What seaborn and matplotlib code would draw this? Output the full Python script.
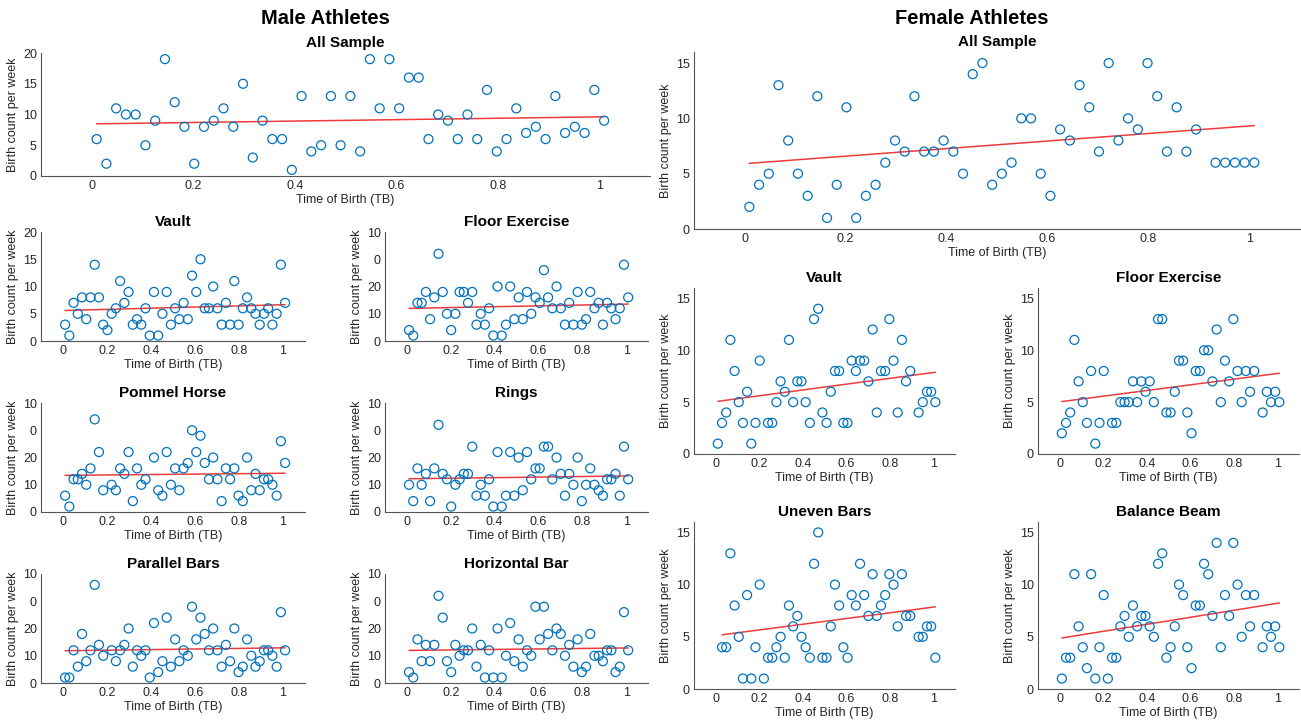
import numpy as np
import pandas as pd
import matplotlib
matplotlib.use("Agg")
import matplotlib.pyplot as plt
import seaborn as sns

nan = np.nan
# week index 1..53, plotted as Time of Birth (TB) = (week - 0.5)/52
weeks = np.arange(1, 54)

male_all = [6, 2, 11, 10, 10, 5, 9, 19, 12, 8, 2, 8, 9, 11, 8, 15, 3, 9, 6, 6,
            1, 13, 4, 5, 13, 5, 13, 4, 19, 11, 19, 11, 16, 16, 6, 10, 9, 6, 10, 6,
            14, 4, 6, 11, 7, 8, 6, 13, 7, 8, 7, 14, 9]
male_vault = [3, 1, 7, 5, 8, 4, 8, 14, 8, 3, 2, 5, 6, 11, 7, 9, 3, 4, 3, 6,
              1, 9, 1, 5, 9, 3, 6, 4, 7, 4, 12, 9, 15, 6, 6, 10, 6, 3, 7, 3,
              11, 3, 6, 8, 6, 5, 3, 5, 6, 3, 5, 14, 7]
male_floor = [4, 2, 14, 14, 18, 8, 16, 32, 18, 10, 4, 10, 18, 18, 14, 18, 6, 10, 6, 12,
              2, 20, 2, 6, 20, 8, 16, 8, 18, 10, 16, 14, 26, 16, 12, 20, 12, 6, 14, 6,
              18, 6, 8, 18, 12, 14, 6, 14, 12, 8, 12, 28, 16]
male_pommel = [6, 2, 12, 12, 14, 10, 16, 34, 22, 8, nan, 10, 8, 16, 14, 22, 4, 16, 10, 12,
               nan, 20, 8, 6, 22, 10, 16, 8, 16, 18, 30, 22, 28, 18, 12, 20, 12, 4, 16, 12,
               16, 6, 4, 20, 8, 14, 8, 12, 12, 10, 6, 26, 18]
male_rings = [10, 4, 16, 10, 14, 4, 16, 32, 14, 12, 2, 10, 12, 14, 14, 24, 6, 10, 6, 12,
              2, 22, 2, 6, 22, 6, 20, 8, 22, 12, 16, 16, 24, 24, 12, 20, 14, 6, 14, 10,
              20, 4, 10, 16, 10, 8, 6, 12, 12, 14, 6, 24, 12]
male_parallel = [2, 2, 12, 6, 18, 8, 12, 36, 14, 10, nan, 12, 8, 12, 14, 20, 6, 12, 10, 12,
                 2, 22, 4, 8, 24, 6, 16, 8, 12, 10, 28, 16, 24, 18, 12, 20, 12, 6, 14, 8,
                 20, 4, 6, 16, 10, 6, 8, 12, 12, 10, 6, 26, 12]
male_horizontal = [4, 2, 16, 8, 14, 8, 14, 32, 24, 8, 4, 14, 10, 12, 12, 20, 6, 14, 2, 12,
                   2, 20, 2, 10, 22, 8, 16, 6, 12, 10, 28, 16, 28, 18, 12, 20, 18, 10, 14, 6,
                   16, 4, 6, 18, 10, 10, 8, 12, 12, 4, 6, 26, 12]

female_all = [2, 4, 5, 13, 8, 5, 3, 12, 1, 4, 11, 1, 3, 4, 6, 8, 7, 12, 7, 7,
              8, 7, 5, 14, 15, 4, 5, 6, 10, 10, 5, 3, 9, 8, 13, 11, 7, 15, 8, 10,
              9, 15, 12, 7, 11, 7, 9, nan, 6, 6, 6, 6, 6]
female_vault = [1, 3, 4, 11, 8, 5, 3, 6, 1, 3, 9, nan, 3, 3, 5, 7, 6, 11, 5, 7,
                7, 5, 3, 13, 14, 4, 3, 6, 8, 8, 3, 3, 9, 8, 9, 9, 7, 12, 4, 8,
                8, 13, 9, 4, 11, 7, 8, nan, 4, 5, 6, 6, 5]
female_floor = [2, 3, 4, 11, 7, 5, 3, 8, 1, 3, 8, nan, 3, 3, 5, 5, 5, 7, 5, 7,
                6, 7, 5, 13, 13, 4, 4, 6, 9, 9, 4, 2, 8, 8, 10, 10, 7, 12, 5, 9,
                7, 13, 8, 5, 8, 6, 8, nan, 4, 6, 5, 6, 5]
female_uneven = [nan, 4, 4, 13, 8, 5, 1, 9, 1, 4, 10, 1, 3, 3, 4, 5, 3, 8, 6, 7,
                 5, 4, 3, 12, 15, 3, 3, 6, 10, 8, 4, 3, 9, 8, 12, 9, 7, 11, 7, 8,
                 9, 11, 10, 6, 11, 7, 7, nan, 5, 5, 6, 6, 3]
female_balance = [1, 3, 3, 11, 6, 4, 2, 11, 1, 4, 9, 1, 3, 3, 6, 7, 5, 8, 6, 7,
                  7, 6, 5, 12, 13, 3, 4, 6, 10, 9, 4, 2, 8, 8, 12, 11, 7, 14, 4, 9,
                  7, 14, 10, 5, 9, 6, 9, nan, 4, 6, 5, 6, 4]

x_ticks = [0, 0.2, 0.4, 0.6, 0.8, 1]
x_ticklabels = ["0", "0.2", "0.4", "0.6", "0.8", "1"]
y20_ticks = [0, 5, 10, 15, 20]
y40_ticks = [0, 10, 20, 30, 40]
y40_ticklabels = ["0", "10", "20", "0", "10"]   # as printed (clipped) in the reference
y16_ticks = [0, 5, 10, 15]

sns.set_theme(style="white")
plt.rcParams["font.family"] = ["Liberation Sans", "DejaVu Sans"]

W, H = 1301, 722
fig = plt.figure(figsize=(W / 100, H / 100), dpi=100)

BLUE = "#0072BD"
RED = "#EE3B3B"
AX = "#262626"


def add_ax(l, t, r, b):
    return fig.add_axes([l / W, 1 - b / H, (r - l) / W, (b - t) / H])


def panel(ax, values, title, ylim, yticks, yticklabels=None, title_size=11):
    df = pd.DataFrame({"tb": (weeks - 0.5) / 52, "count": values}).dropna()
    sns.scatterplot(data=df, x="tb", y="count", ax=ax, marker="o", s=42,
                    facecolors="none", edgecolor=BLUE, linewidth=0.9, zorder=3,
                    clip_on=False)
    sns.regplot(data=df, x="tb", y="count", ax=ax, scatter=False, ci=None,
                truncate=True, line_kws={"color": RED, "lw": 1.1, "zorder": 2})
    ax.set_xlim(-0.1, 1.1)
    ax.set_ylim(*ylim)
    ax.set_xticks(x_ticks)
    ax.set_xticklabels(x_ticklabels)
    ax.set_yticks(yticks)
    if yticklabels is not None:
        ax.set_yticklabels(yticklabels)
    ax.set_title(title, fontsize=title_size, fontweight="bold", pad=4, color="black")
    ax.set_xlabel("Time of Birth (TB)", fontsize=9, labelpad=1, color=AX)
    ax.set_ylabel("Birth count per week", fontsize=9, labelpad=3, color=AX)
    for s in ["top", "right"]:
        ax.spines[s].set_visible(False)
    for s in ["left", "bottom"]:
        ax.spines[s].set_color("#555555")
        ax.spines[s].set_linewidth(0.8)
    ax.tick_params(axis="both", direction="in", length=3, width=0.6,
                   colors="#555555", labelcolor=AX, labelsize=9, pad=3)
    ax.set_facecolor("white")
    ax.grid(False)


# Male side
panel(add_ax(41, 53, 650, 176), male_all, "All Sample", (0, 20), y20_ticks)
panel(add_ax(41, 232, 305, 341), male_vault, "Vault", (0, 20), y20_ticks)
panel(add_ax(385, 232, 648, 341), male_floor, "Floor Exercise", (0, 40), y40_ticks, y40_ticklabels)
panel(add_ax(41, 403, 305, 512), male_pommel, "Pommel Horse", (0, 40), y40_ticks, y40_ticklabels)
panel(add_ax(385, 403, 648, 512), male_rings, "Rings", (0, 40), y40_ticks, y40_ticklabels)
panel(add_ax(41, 574, 305, 683), male_parallel, "Parallel Bars", (0, 40), y40_ticks, y40_ticklabels)
panel(add_ax(385, 574, 648, 683), male_horizontal, "Horizontal Bar", (0, 40), y40_ticks, y40_ticklabels)

# Female side
panel(add_ax(694, 52, 1300, 229), female_all, "All Sample", (0, 16), y16_ticks)
panel(add_ax(694, 288, 955, 454), female_vault, "Vault", (0, 16), y16_ticks)
panel(add_ax(1038, 288, 1299, 454), female_floor, "Floor Exercise", (0, 16), y16_ticks)
panel(add_ax(694, 522, 955, 689), female_uneven, "Uneven Bars", (0, 16), y16_ticks)
panel(add_ax(1038, 522, 1299, 689), female_balance, "Balance Beam", (0, 16), y16_ticks)

fig.text(325 / W, 1 - 19 / H, "Male Athletes", ha="center", va="center",
         fontsize=14.5, fontweight="bold", color="black")
fig.text(972 / W, 1 - 19 / H, "Female Athletes", ha="center", va="center",
         fontsize=14.5, fontweight="bold", color="black")

fig.savefig("out.png", dpi=100, facecolor="white")
